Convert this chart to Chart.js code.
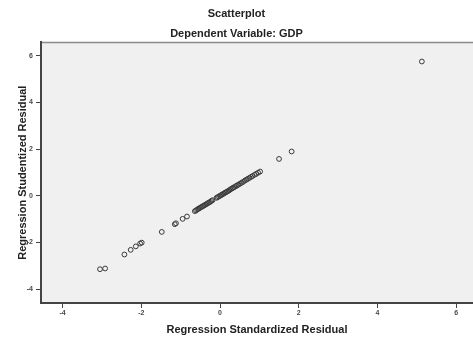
<!DOCTYPE html>
<html>
<head>
<meta charset="utf-8">
<script src="https://cdn.jsdelivr.net/npm/chart.js@4"></script>
<style>
  body { margin: 0; background: #fff; }
  #wrap { width: 473px; height: 338px; }
</style>
</head>
<body>
<div id="wrap"><canvas id="scatter" width="473" height="338"></canvas></div>
<script>
// residuals
const standardized = [
  -3.05, -2.92, -2.43, -2.27, -2.14, -2.03, -1.99, -1.48, -1.15, -1.12, -0.95, -0.84,
  -0.64, -0.61, -0.58, -0.55, -0.52, -0.49, -0.46, -0.43, -0.40, -0.37, -0.34, -0.31, -0.28, -0.25, -0.22, -0.19,
  -0.09, -0.06, -0.03, 0.00, 0.03, 0.06, 0.09, 0.12, 0.15, 0.18, 0.21, 0.24, 0.27, 0.30, 0.33, 0.36,
  0.40, 0.43, 0.47, 0.51, 0.55, 0.59, 0.63, 0.67, 0.71, 0.75, 0.79, 0.83, 0.88, 0.92, 0.97, 1.02,
  1.50, 1.82, 5.13
];
const studentized = [
  -3.15, -3.12, -2.52, -2.32, -2.17, -2.05, -2.01, -1.55, -1.22, -1.18, -0.99, -0.89,
  -0.66, -0.63, -0.59, -0.56, -0.53, -0.50, -0.47, -0.44, -0.41, -0.38, -0.35, -0.32, -0.29, -0.26, -0.22, -0.19,
  -0.09, -0.06, -0.03, 0.00, 0.03, 0.06, 0.09, 0.12, 0.15, 0.18, 0.21, 0.24, 0.28, 0.31, 0.34, 0.37,
  0.41, 0.44, 0.48, 0.52, 0.56, 0.60, 0.65, 0.69, 0.73, 0.77, 0.81, 0.85, 0.90, 0.94, 0.99, 1.04,
  1.58, 1.90, 5.76
];
const xTicks = [-4, -2, 0, 2, 4, 6];
const yTicks = [-4, -2, 0, 2, 4, 6];

const fontFamily = "'Liberation Sans', Arial, sans-serif";

// grey plot background + top edge line
const plotBg = {
  id: 'plotBg',
  beforeDraw(chart) {
    const { ctx, chartArea: a } = chart;
    ctx.save();
    ctx.fillStyle = '#f0f0f0';
    ctx.fillRect(a.left, a.top, a.right - a.left, a.bottom - a.top);
    ctx.strokeStyle = '#8a8a8a';
    ctx.lineWidth = 1.5;
    ctx.beginPath();
    ctx.moveTo(a.left, a.top);
    ctx.lineTo(a.right, a.top);
    ctx.stroke();
    ctx.restore();
  }
};

const points = standardized.map((x, i) => ({ x: x, y: studentized[i] }));

new Chart(document.getElementById('scatter'), {
  type: 'scatter',
  data: {
    datasets: [{
      data: points,
      pointRadius: 2.4,
      pointBorderWidth: 1,
      pointBorderColor: '#3a3a3a',
      pointBackgroundColor: 'rgba(0,0,0,0)'
    }]
  },
  plugins: [plotBg],
  options: {
    responsive: false,
    animation: false,
    layout: { padding: 0, autoPadding: false },
    plugins: {
      legend: { display: false },
      tooltip: { enabled: false },
      title: {
        display: true,
        text: 'Scatterplot',
        color: '#222',
        font: { family: fontFamily, size: 11, weight: 'bold' },
        padding: { top: 7, bottom: 7 }
      },
      subtitle: {
        display: true,
        text: 'Dependent Variable: GDP',
        color: '#222',
        font: { family: fontFamily, size: 11, weight: 'bold' },
        padding: { top: 0, bottom: 2 }
      }
    },
    scales: {
      x: {
        type: 'linear',
        min: -4.55,
        max: 6.43,
        afterBuildTicks: s => { s.ticks = xTicks.map(v => ({ value: v })); },
        afterFit: s => { s.height = 35; },
        border: { color: '#444', width: 2 },
        grid: { drawOnChartArea: false, drawTicks: true, tickLength: 5, color: '#444' },
        ticks: {
          color: '#4a4a4a',
          padding: 1,
          font: { family: fontFamily, size: 7, weight: 'bold' }
        },
        title: {
          display: true,
          text: 'Regression Standardized Residual',
          color: '#222',
          font: { family: fontFamily, size: 11, weight: 'bold' },
          padding: { top: 0, bottom: 1 }
        }
      },
      y: {
        type: 'linear',
        min: -4.6,
        max: 6.58,
        afterBuildTicks: s => { s.ticks = yTicks.map(v => ({ value: v })); },
        afterFit: s => { s.width = 41; },
        border: { color: '#444', width: 2 },
        grid: { drawOnChartArea: false, drawTicks: true, tickLength: 5, color: '#444' },
        ticks: {
          color: '#4a4a4a',
          padding: 3,
          font: { family: fontFamily, size: 7, weight: 'bold' }
        },
        title: {
          display: true,
          text: 'Regression Studentized Residual',
          color: '#222',
          font: { family: fontFamily, size: 11, weight: 'bold' },
          padding: { top: 16, bottom: 0 }
        }
      }
    }
  }
});
</script>
</body>
</html>
